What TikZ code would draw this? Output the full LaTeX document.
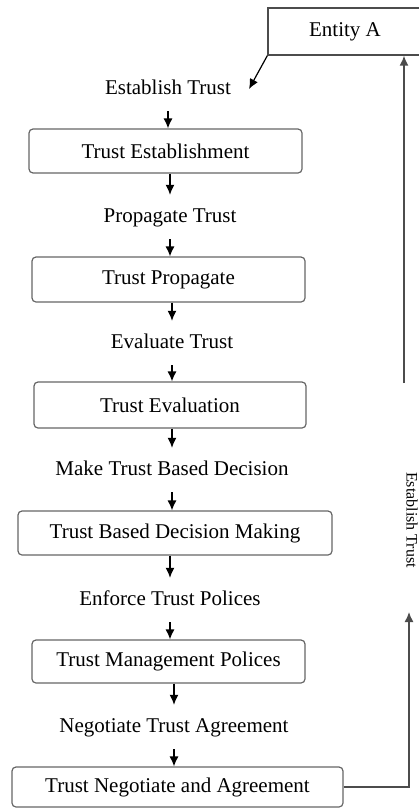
\documentclass[tikz,border=0pt]{standalone}
\usepackage{fontspec}
\setmainfont{Liberation Serif}
\usetikzlibrary{arrows.meta}

\tikzset{
  stage/.style={draw=black!60, line width=1.2pt, rounded corners=4pt, inner sep=0pt,
    font=\fontsize{21}{24}\selectfont},
  act/.style={inner xsep=0pt, inner ysep=12pt, text height=15pt, text depth=5pt,
    font=\fontsize{21}{24}\selectfont},
  flow/.style={-{Latex[length=10pt,width=9pt]}, line width=1.2pt},
  loop/.style={draw=black!70, line width=1.4pt},
}

\begin{document}
\begin{tikzpicture}[x=1pt,y=-1pt]
\useasboundingbox (0,0) rectangle (419,808);
\node[draw=black!70, line width=1.4pt, minimum width=154, minimum height=47,
  font=\fontsize{21}{24}\selectfont] (ent) at (345,31.5) {Entity A};
\node[act] (l1) at (168,89) {Establish Trust};
\node[stage, minimum width=273, minimum height=44] (b1) at (165.5,151) {Trust Establishment};
\node[act] (l2) at (170,217) {Propagate Trust};
\node[stage, minimum width=273, minimum height=45] (b2) at (168.5,279.5) {Trust Propagate};
\node[act] (l3) at (172,343) {Evaluate Trust};
\node[stage, minimum width=272, minimum height=46] (b3) at (170,405) {Trust Evaluation};
\node[act] (l4) at (172,470) {Make Trust Based Decision};
\node[stage, minimum width=314, minimum height=44] (b4) at (175,533) {Trust Based Decision Making};
\node[act] (l5) at (170,600) {Enforce Trust Polices};
\node[stage, minimum width=273, minimum height=43] (b5) at (168.5,661.5) {Trust Management Polices};
\node[act] (l6) at (174,727) {Negotiate Trust Agreement};
\node[stage, minimum width=331, minimum height=40] (b6) at (177.5,787) {Trust Negotiate and Agreement};
% return path on the right
\coordinate (up) at (404,383);
\coordinate (tip) at (409,612);
\coordinate (et) at (249,89);
\node[rotate=-90, font=\fontsize{16}{18}\selectfont] (ret) at (412,520) {Establish Trust};
% Arrows
\draw[flow] (ent.south west) -- (et);
\draw[flow] (l1.south) -- (l1.south |- b1.north);
\draw[flow] (b1.south -| l2) -- (l2.north);
\draw[flow] (l2.south) -- (l2.south |- b2.north);
\draw[flow] (b2.south -| l3) -- (l3.north);
\draw[flow] (l3.south) -- (l3.south |- b3.north);
\draw[flow] (b3.south -| l4) -- (l4.north);
\draw[flow] (l4.south) -- (l4.south |- b4.north);
\draw[flow] (b4.south -| l5) -- (l5.north);
\draw[flow] (l5.south) -- (l5.south |- b5.north);
\draw[flow] (b5.south -| l6) -- (l6.north);
\draw[flow] (l6.south) -- (l6.south |- b6.north);
\draw[flow, loop] (b6.east) -| (tip);
\draw[flow, loop] (up) -- (up |- ent.south);
\end{tikzpicture}
\end{document}
